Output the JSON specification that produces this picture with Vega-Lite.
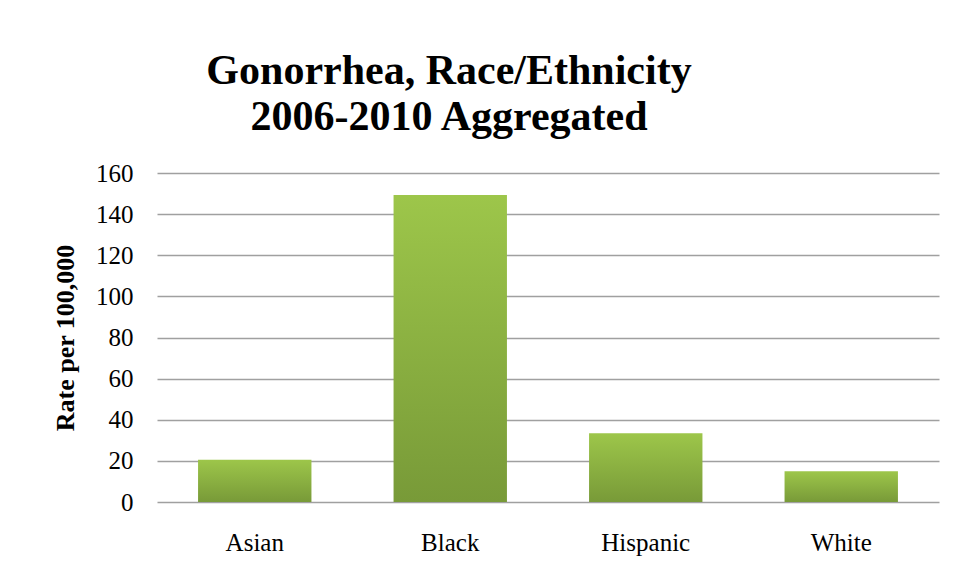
{
  "$schema": "https://vega.github.io/schema/vega-lite/v6.json",
  "width": 782,
  "height": 329,
  "autosize": {"type": "none"},
  "padding": {"left": 157, "top": 173, "right": 19, "bottom": 77},
  "background": "white",
  "title": {
    "text": ["Gonorrhea, Race/Ethnicity", "2006-2010 Aggregated"],
    "font": "Liberation Serif",
    "fontSize": 42,
    "fontWeight": "bold",
    "color": "#000000",
    "anchor": "middle",
    "dx": -99,
    "offset": 22,
    "lineHeight": 46
  },
  "data": {
    "values": [
      {"race": "Asian", "rate": 20.6},
      {"race": "Black", "rate": 149.3},
      {"race": "Hispanic", "rate": 33.4},
      {"race": "White", "rate": 14.9}
    ]
  },
  "mark": {
    "type": "bar",
    "color": {
      "gradient": "linear",
      "x1": 0, "y1": 0, "x2": 0, "y2": 1,
      "stops": [
        {"offset": 0, "color": "#9DC64A"},
        {"offset": 1, "color": "#789A38"}
      ]
    }
  },
  "encoding": {
    "x": {
      "field": "race",
      "type": "nominal",
      "sort": null,
      "scale": {"paddingInner": 0.42, "paddingOuter": 0.21},
      "axis": {
        "title": null,
        "labelAngle": 0,
        "labelFont": "Liberation Serif",
        "labelFontSize": 25,
        "labelColor": "#000000",
        "domain": false,
        "ticks": false,
        "labelPadding": 28
      }
    },
    "y": {
      "field": "rate",
      "type": "quantitative",
      "scale": {"domain": [0, 160]},
      "axis": {
        "title": "Rate per 100,000",
        "titleFont": "Liberation Serif",
        "titleFontSize": 26,
        "titleFontWeight": "bold",
        "titleColor": "#000000",
        "titlePadding": 17,
        "values": [0, 20, 40, 60, 80, 100, 120, 140, 160],
        "labelFont": "Liberation Serif",
        "labelFontSize": 25,
        "labelColor": "#000000",
        "labelPadding": 24,
        "domain": false,
        "ticks": false,
        "gridColor": "#A0A0A0",
        "gridWidth": 1.5,
        "gridOpacity": 1
      }
    }
  },
  "config": {"view": {"stroke": null}}
}
